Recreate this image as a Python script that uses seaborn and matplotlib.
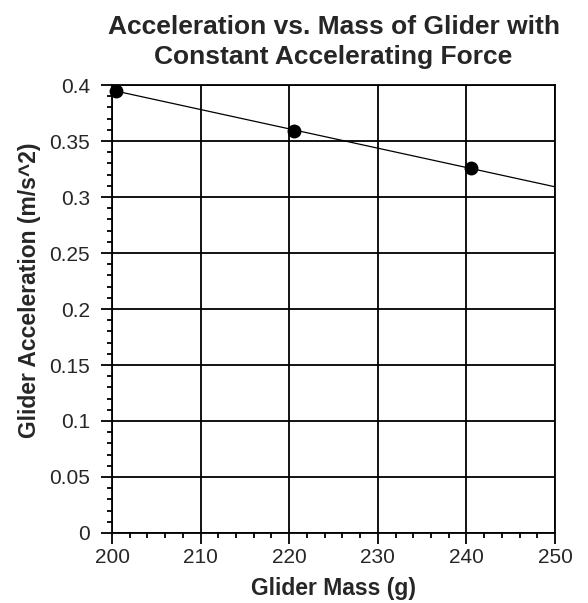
#import libraries
import numpy as np
import pandas as pd
import matplotlib
matplotlib.use("Agg")
import matplotlib.pyplot as plt
from matplotlib.ticker import MultipleLocator, FuncFormatter
import seaborn as sns

# data
mass = [200.5, 220.5, 240.5]
accel = [0.395, 0.359, 0.326]
x_ticks = [200, 210, 220, 230, 240, 250]
y_ticks = [0, 0.05, 0.1, 0.15, 0.2, 0.25, 0.3, 0.35, 0.4]

df = pd.DataFrame({"Glider Mass (g)": mass, "Glider Acceleration (m/s^2)": accel})

sns.set_style("white")
plt.rcParams['font.family'] = ['Liberation Sans', 'DejaVu Sans']

fig = plt.figure(figsize=(5.88, 6.03), dpi=100)
ax = fig.add_axes([0.1905, 0.1161, 0.7534, 0.7429])
ax.set_xlim(200, 250)
ax.set_ylim(0, 0.4)

# points + least squares line across the whole x range
sns.regplot(data=df, x="Glider Mass (g)", y="Glider Acceleration (m/s^2)", ax=ax,
            ci=None, truncate=False,
            scatter_kws={"s": 100, "color": "black", "alpha": 1, "linewidths": 0,
                         "zorder": 5, "clip_on": False},
            line_kws={"color": "black", "lw": 0.9})

ax.set_xlim(200, 250)
ax.set_ylim(0, 0.4)
ax.set_xticks(x_ticks)
ax.set_yticks(y_ticks)
ax.xaxis.set_minor_locator(MultipleLocator(2))
ax.yaxis.set_minor_locator(MultipleLocator(0.01))
ax.yaxis.set_major_formatter(FuncFormatter(lambda v, p: f"{v:g}"))

ax.grid(True, which="major", color="black", lw=1.3)
for s in ax.spines.values():
    s.set_color("black")
    s.set_linewidth(1.3)
ax.tick_params(which="major", direction="out", length=8, width=1.3, color="black",
               labelsize=15)
ax.tick_params(axis="y", which="major", pad=8)
ax.tick_params(axis="x", which="major", pad=3)
ax.tick_params(which="minor", direction="out", length=3.7, width=1.3, color="black")
ax.tick_params(axis="both", which="both", bottom=True, left=True)

ax.set_xlabel("Glider Mass (g)", fontsize=16.5, fontweight="bold", labelpad=7)
ax.set_ylabel("Glider Acceleration (m/s^2)", fontsize=16.5, fontweight="bold")
ax.yaxis.set_label_coords(-0.16, 0.542)
ax.set_title("Acceleration vs. Mass of Glider with\nConstant Accelerating Force",
             fontsize=19, fontweight="bold", pad=15, linespacing=1.3)

fig.savefig("out.png", dpi=100)
